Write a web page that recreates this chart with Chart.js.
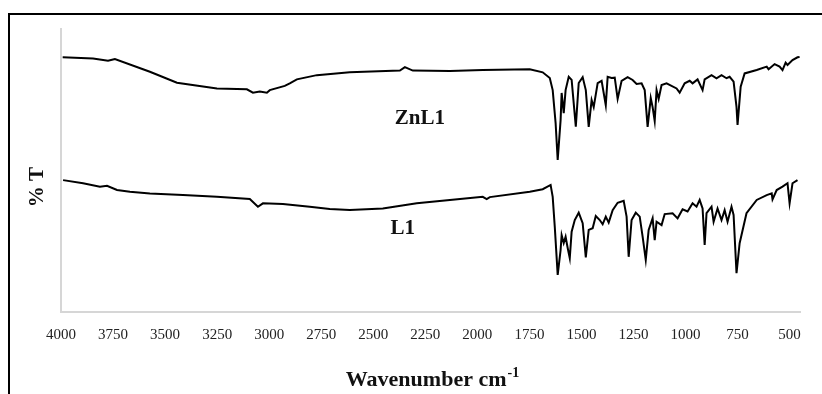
<!DOCTYPE html>
<html>
<head>
<meta charset="utf-8">
<script src="https://cdn.jsdelivr.net/npm/chart.js@4.4.1/dist/chart.umd.min.js"></script>
<style>
  html, body { margin: 0; padding: 0; background: #fff; }
  #wrap { width: 822px; height: 394px; }
</style>
</head>
<body>
<div id="wrap"><canvas id="ir" width="822" height="394"></canvas></div>
<script>
// tick values on the wavenumber axis
const xTicks = [4000, 3750, 3500, 3250, 3000, 2750, 2500, 2250, 2000, 1750, 1500, 1250, 1000, 750, 500];

// ZnL1 spectrum (wavenumber cm-1, %T in arbitrary units)
const wnZn = [3992, 3846, 3774, 3741, 3573, 3443, 3251, 3107, 3078, 3045, 3011, 2997, 2925, 2901, 2867, 2771, 2613, 2372, 2348, 2310,
  2132, 1974, 1748, 1686, 1652, 1638, 1624, 1614, 1600, 1595, 1585, 1576, 1561, 1547, 1527, 1513, 1494, 1479, 1465, 1451,
  1441, 1422, 1403, 1383, 1374, 1355, 1340, 1326, 1307, 1278, 1254, 1235, 1211, 1196, 1182, 1167, 1158, 1148, 1139, 1129,
  1115, 1091, 1043, 1028, 1004, 980, 966, 942, 918, 908, 875, 851, 827, 803, 788, 769, 755, 750, 735, 716,
  658, 610, 601, 572, 548, 534, 519, 510, 486, 462, 452];
const tZn = [90.0, 89.6, 88.8, 89.4, 84.9, 81.0, 79.0, 78.7, 77.5, 77.9, 77.5, 78.4, 79.9, 80.8, 82.2, 83.7, 84.7, 85.3, 86.5, 85.3,
  85.2, 85.5, 85.8, 84.7, 82.7, 78.4, 66.8, 53.7, 67.8, 77.4, 70.3, 78.4, 83.1, 82.0, 65.5, 80.9, 83.0, 78.4, 65.4, 74.9,
  72.4, 80.9, 81.7, 73.1, 83.1, 82.7, 82.8, 75.3, 81.7, 83.0, 82.0, 80.6, 80.8, 78.4, 65.4, 75.6, 72.4, 67.5, 78.4, 75.3,
  80.2, 80.8, 79.0, 77.5, 80.8, 81.7, 80.8, 82.2, 78.4, 82.2, 83.7, 82.6, 83.7, 82.6, 83.1, 81.4, 72.5, 66.1, 79.6, 84.3,
  85.5, 86.7, 85.8, 87.6, 86.7, 85.5, 88.1, 87.3, 89.0, 90.0, 90.1];

// L1 spectrum
const wnL1 = [3990, 3894, 3813, 3779, 3731, 3669, 3573, 3414, 3251, 3093, 3054, 3030, 2934, 2805, 2709, 2613, 2454, 2291, 2132, 1974,
  1955, 1940, 1748, 1686, 1648, 1638, 1628, 1614, 1600, 1595, 1585, 1576, 1566, 1556, 1547, 1532, 1513, 1494, 1479, 1465,
  1446, 1431, 1412, 1398, 1383, 1369, 1350, 1326, 1297, 1283, 1273, 1259, 1239, 1220, 1206, 1191, 1177, 1158, 1148, 1139,
  1115, 1100, 1062, 1038, 1014, 990, 966, 947, 932, 918, 908, 899, 875, 865, 846, 827, 812, 798, 779, 769,
  759, 755, 740, 707, 658, 610, 586, 582, 562, 534, 510, 500, 486, 462];
const tL1 = [46.6, 45.5, 44.3, 44.6, 43.1, 42.5, 41.9, 41.3, 40.7, 39.9, 37.2, 38.4, 38.2, 37.2, 36.4, 36.0, 36.6, 38.4, 39.6, 40.7,
  39.9, 40.6, 42.5, 43.4, 44.9, 40.7, 30.1, 13.1, 21.9, 27.2, 24.4, 26.6, 22.6, 19.0, 28.4, 32.5, 35.1, 31.4, 19.3, 29.0,
  29.6, 33.9, 32.5, 31.0, 33.7, 31.6, 36.0, 38.6, 39.3, 33.7, 19.5, 32.5, 35.1, 33.7, 26.6, 18.4, 29.0, 33.1, 25.4, 31.9,
  30.7, 34.6, 34.9, 33.1, 36.3, 35.5, 38.4, 37.2, 39.6, 36.6, 23.7, 34.9, 37.2, 31.9, 36.6, 32.5, 36.0, 31.9, 37.2, 34.3,
  19.5, 13.7, 24.3, 34.9, 39.6, 41.3, 41.9, 39.8, 43.1, 44.3, 45.5, 38.4, 45.5, 46.6];

const seriesLabels = [
  { text: 'ZnL1', x: 2276, y: 68.3 },
  { text: 'L1', x: 2358, y: 29.4 }
];

const toPoints = (xs, ys) => xs.map((x, i) => ({ x, y: ys[i] }));

// frame, series names and axis titles
const decorations = {
  id: 'decorations',
  afterDraw(chart) {
    const { ctx, scales } = chart;
    ctx.save();
    ctx.strokeStyle = '#000';
    ctx.lineWidth = 2;
    ctx.strokeRect(9, 14, 830, 400);

    ctx.fillStyle = '#111';
    ctx.textAlign = 'center';
    ctx.textBaseline = 'middle';
    ctx.font = 'bold 21px "Liberation Serif", "Times New Roman", serif';
    seriesLabels.forEach(l => {
      ctx.fillText(l.text, scales.x.getPixelForValue(l.x), scales.y.getPixelForValue(l.y));
    });

    // x title with superscript
    ctx.textAlign = 'left';
    ctx.textBaseline = 'alphabetic';
    const main = 'Wavenumber cm';
    ctx.font = 'bold 14px "Liberation Serif", serif';
    const supW = ctx.measureText('-1').width;
    ctx.font = 'bold 22px "Liberation Serif", "Times New Roman", serif';
    const mainW = ctx.measureText(main).width;
    const x0 = 432 - (mainW + supW) / 2;
    ctx.fillText(main, x0, 386);
    ctx.font = 'bold 14px "Liberation Serif", serif';
    ctx.fillText('-1', x0 + mainW + 1, 377);

    // y title
    ctx.translate(38, 187);
    ctx.rotate(-Math.PI / 2);
    ctx.textAlign = 'center';
    ctx.textBaseline = 'middle';
    ctx.font = 'bold 21px "Liberation Serif", "Times New Roman", serif';
    ctx.fillText('% T', 0, 0);
    ctx.restore();
  }
};

new Chart(document.getElementById('ir'), {
  type: 'scatter',
  data: {
    datasets: [
      { label: 'ZnL1', data: toPoints(wnZn, tZn) },
      { label: 'L1', data: toPoints(wnL1, tL1) }
    ].map(d => Object.assign(d, {
      showLine: true, borderColor: '#000', borderWidth: 2, pointRadius: 0, tension: 0, fill: false
    }))
  },
  options: {
    responsive: false,
    animation: false,
    events: [],
    layout: { padding: { top: 29, right: 22, left: 0, bottom: 0 } },
    plugins: { legend: { display: false }, tooltip: { enabled: false } },
    scales: {
      x: {
        type: 'linear', reverse: true, min: 450, max: 4000,
        grid: { display: false, drawTicks: false },
        border: { color: '#d6d6d6', width: 2 },
        ticks: {
          autoSkip: false, maxRotation: 0, padding: 14, color: '#222',
          font: { family: '"Liberation Serif", "Times New Roman", serif', size: 15 },
          callback: v => String(v)
        },
        afterBuildTicks: s => { s.ticks = xTicks.map(v => ({ value: v })); },
        afterFit: s => { s.height = 82; }
      },
      y: {
        min: 0, max: 100,
        grid: { display: false, drawTicks: false },
        border: { color: '#d6d6d6', width: 2 },
        ticks: { display: false },
        afterFit: s => { s.width = 61; }
      }
    }
  },
  plugins: [decorations]
});
</script>
</body>
</html>
